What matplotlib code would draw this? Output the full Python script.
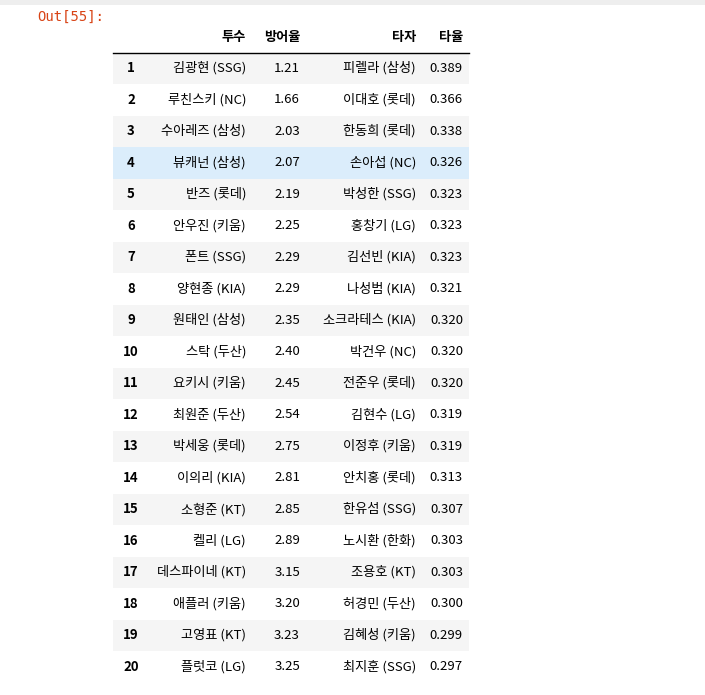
import matplotlib
matplotlib.use("Agg")
import matplotlib.pyplot as plt
from matplotlib.patches import Rectangle

plt.rcParams['font.family'] = ['Noto Sans CJK KR', 'DejaVu Sans']

ranks = list(range(1, 21))
pitchers = ['김광현 (SSG)', '루친스키 (NC)', '수아레즈 (삼성)', '뷰캐넌 (삼성)', '반즈 (롯데)',
            '안우진 (키움)', '폰트 (SSG)', '양현종 (KIA)', '원태인 (삼성)', '스탁 (두산)',
            '요키시 (키움)', '최원준 (두산)', '박세웅 (롯데)', '이의리 (KIA)', '소형준 (KT)',
            '켈리 (LG)', '데스파이네 (KT)', '애플러 (키움)', '고영표 (KT)', '플럿코 (LG)']
era = [1.21, 1.66, 2.03, 2.07, 2.19, 2.25, 2.29, 2.29, 2.35, 2.40,
       2.45, 2.54, 2.75, 2.81, 2.85, 2.89, 3.15, 3.20, 3.23, 3.25]
batters = ['피렐라 (삼성)', '이대호 (롯데)', '한동희 (롯데)', '손아섭 (NC)', '박성한 (SSG)',
           '홍창기 (LG)', '김선빈 (KIA)', '나성범 (KIA)', '소크라테스 (KIA)', '박건우 (NC)',
           '전준우 (롯데)', '김현수 (LG)', '이정후 (키움)', '안치홍 (롯데)', '한유섬 (SSG)',
           '노시환 (한화)', '조용호 (KT)', '허경민 (두산)', '김혜성 (키움)', '최지훈 (SSG)']
avg = [0.389, 0.366, 0.338, 0.326, 0.323, 0.323, 0.323, 0.321, 0.320, 0.320,
       0.320, 0.319, 0.319, 0.313, 0.307, 0.303, 0.303, 0.300, 0.299, 0.297]
headers = ['투수', '방어율', '타자', '타율']

W, H = 705, 695
fig = plt.figure(figsize=(W / 100, H / 100), dpi=100)
ax = fig.add_axes([0, 0, 1, 1])
ax.set_xlim(0, W)
ax.set_ylim(H, 0)
ax.axis('off')

# notebook top shadow
ax.add_patch(Rectangle((0, 0), W, 5, color='#eeeeee', lw=0))
ax.text(37, 17, 'Out[55]:', color='#d84315', fontsize=10, family='DejaVu Sans Mono', va='center')

x0, x1 = 113, 469
top = 52.5
rh = 31.5
fs = 9.5
ax.plot([x0, x1], [top, top], color='black', lw=1)
col_right = [246, 300, 416, 463]
for xr, h in zip(col_right, headers):
    ax.text(xr, 37, h, ha='right', va='center', fontsize=fs, fontweight='bold')

for i, r in enumerate(ranks):
    y = top + i * rh
    if i == 3:
        ax.add_patch(Rectangle((x0, y), x1 - x0, rh, color='#dbedfb', lw=0))
    elif i % 2 == 0:
        ax.add_patch(Rectangle((x0, y), x1 - x0, rh, color='#f5f5f5', lw=0))
    yc = y + rh / 2
    ax.text(131, yc, str(r), ha='center', va='center', fontsize=fs, fontweight='bold')
    vals = [pitchers[i], f'{era[i]:.2f}', batters[i], f'{avg[i]:.3f}']
    for xr, v in zip(col_right, vals):
        ax.text(xr, yc, v, ha='right', va='center', fontsize=fs)

fig.savefig('out.png', dpi=100, facecolor='white')
